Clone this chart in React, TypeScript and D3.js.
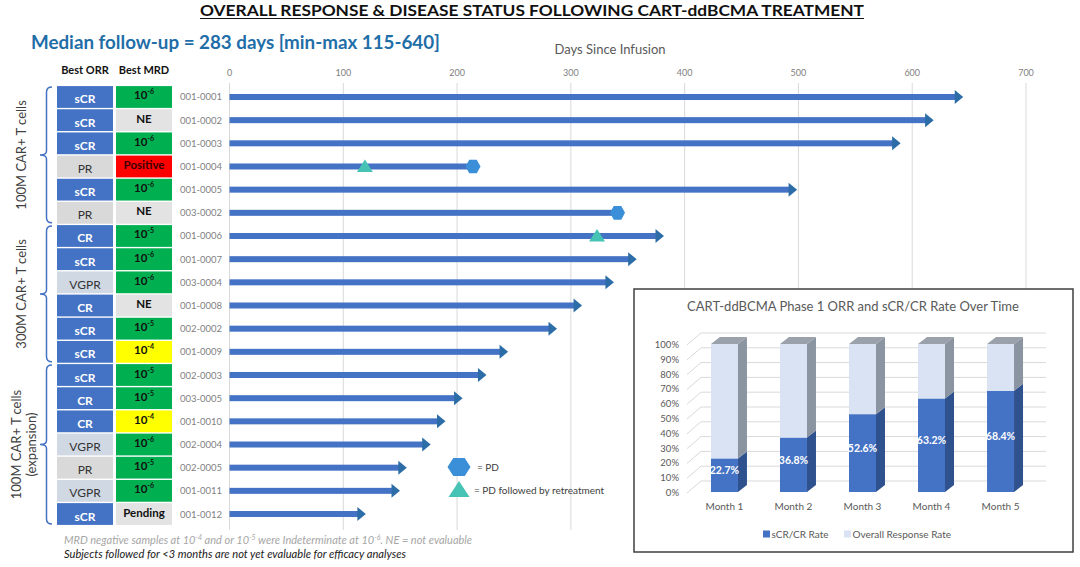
import React from 'react';
import * as d3 from 'd3';

// ---------- Data ----------
const patients = ["001-0001","001-0002","001-0003","001-0004","001-0005","003-0002","001-0006","001-0007","003-0004","001-0008","002-0002","001-0009","002-0003","003-0005","001-0010","002-0004","002-0005","001-0011","001-0012"];
const bestORR = ["sCR","sCR","sCR","PR","sCR","PR","CR","sCR","VGPR","CR","sCR","sCR","sCR","CR","CR","VGPR","PR","VGPR","sCR"];
const bestMRD = ["10-6","NE","10-6","Positive","10-6","NE","10-5","10-6","10-6","NE","10-5","10-4","10-5","10-5","10-4","10-6","10-5","10-6","Pending"];
const followUpDays = [640,614,585,214,494,341,377,353,333,305,283,240,221,200,185,172,151,145,115];
const pdDays: (number|null)[] = [null,null,null,214,null,341,null,null,null,null,null,null,null,null,null,null,null,null,null];
const retreatDays: (number|null)[] = [null,null,null,119,null,null,323,null,null,null,null,null,null,null,null,null,null,null,null];
const groupLabels = [["100M CAR+ T cells"],["300M CAR+ T cells"],["100M CAR+ T cells","(expansion)"]];
const groupRows = [[0,5],[6,11],[12,18]];
const dayTicks = [0,100,200,300,400,500,600,700];

const months = ["Month 1","Month 2","Month 3","Month 4","Month 5"];
const scrRate = [22.7,36.8,52.6,63.2,68.4];
const orrRate = [100,100,100,100,100];
const pctTicks = [0,10,20,30,40,50,60,70,80,90,100];

// ---------- Styles ----------
const FONT = "Lato, 'Open Sans', sans-serif";
const ORR_FILL: Record<string,string> = { sCR: "#4472C4", CR: "#4472C4", PR: "#D9D9D9", VGPR: "#D0D8E4" };
const ORR_TEXT: Record<string,string> = { sCR: "#ffffff", CR: "#ffffff", PR: "#333333", VGPR: "#333333" };
function mrdFill(m: string) {
  if (m === "10-6" || m === "10-5") return "#00B050";
  if (m === "10-4") return "#FFFF00";
  if (m === "Positive") return "#FF0000";
  return "#E3E3E3";
}

function hexPath(cx: number, cy: number, rx: number, ry: number) {
  const pts = [[cx-rx,cy],[cx-rx/2,cy-ry],[cx+rx/2,cy-ry],[cx+rx,cy],[cx+rx/2,cy+ry],[cx-rx/2,cy+ry]];
  return "M" + pts.map(p => p.join(",")).join("L") + "Z";
}
function triPath(cx: number, cy: number, w: number, up: number, down: number) {
  return `M${cx},${cy-up}L${cx+w/2},${cy+down}L${cx-w/2},${cy+down}Z`;
}

function MrdLabel({ m, x, y }: { m: string; x: number; y: number }) {
  if (m.startsWith("10-")) {
    return (
      <text x={x} y={y} textAnchor="middle" fontFamily={FONT} fontWeight="bold" fontSize={11.5} fill="#111">
        <tspan>10</tspan><tspan fontSize={7} dy={-5}>{"-" + m.slice(3)}</tspan>
      </text>
    );
  }
  return (
    <text x={x} y={y} textAnchor="middle" fontFamily={FONT} fontWeight="bold" fontSize={11.5} fill={m === "Positive" ? "#3a0000" : "#111"}>{m}</text>
  );
}

export default function App() {
  const W = 1080, H = 567;
  const x = d3.scaleLinear().domain([0, 700]).range([229.5, 1026]);
  const y = d3.scaleBand<number>().domain(d3.range(patients.length)).range([85.4, 525.6]).paddingInner(0.06).paddingOuter(0.03);
  const bw = y.bandwidth();
  const cy = (i: number) => (y(i) as number) + bw / 2;

  // inset
  const yP = d3.scaleLinear().domain([0, 100]).range([492, 344]);
  const xM = d3.scaleBand<string>().domain(months).range([690, 1035]).paddingInner(0.609).paddingOuter(0.304);
  const mw = xM.bandwidth();
  const dx = 9, dy = -7;

  return (
    <svg width={W} height={H} style={{ position: "absolute", left: 0, top: 0, background: "#fff" }}>
      <rect width={W} height={H} fill="#fff" />
      {/* Title */}
      <text x={532} y={16} textAnchor="middle" fontFamily={FONT} fontWeight="bold" fontSize={16} fill="#111" textLength={664} lengthAdjust="spacingAndGlyphs">OVERALL RESPONSE &amp; DISEASE STATUS FOLLOWING CART-ddBCMA TREATMENT</text>
      <line x1={200} x2={864} y1={18.5} y2={18.5} stroke="#111" strokeWidth={1.2} />
      <text x={31} y={49} fontFamily={FONT} fontWeight="bold" fontSize={19} fill="#1F6EA8" textLength={409} lengthAdjust="spacingAndGlyphs">Median follow-up = 283 days [min-max 115-640]</text>
      <text x={610} y={54} textAnchor="middle" fontFamily={FONT} fontSize={13} fill="#595959">Days Since Infusion</text>

      {/* headers */}
      <text x={85} y={74} textAnchor="middle" fontFamily={FONT} fontWeight="bold" fontSize={11} fill="#111">Best ORR</text>
      <text x={144} y={74} textAnchor="middle" fontFamily={FONT} fontWeight="bold" fontSize={11} fill="#111">Best MRD</text>

      {/* gridlines & ticks */}
      {dayTicks.map(t => (
        <g key={t}>
          <line x1={x(t)} x2={x(t)} y1={83} y2={530} stroke="#D9D9D9" strokeWidth={1} />
          <text x={x(t)} y={76} textAnchor="middle" fontFamily={FONT} fontSize={9} fill="#808080">{t}</text>
        </g>
      ))}

      {/* table rows */}
      {patients.map((p, i) => (
        <g key={p}>
          <rect x={57} y={y(i)} width={56} height={bw} fill={ORR_FILL[bestORR[i]]} />
          <text x={85} y={cy(i) + 6.5} textAnchor="middle" fontFamily={FONT} fontWeight={bestORR[i].includes("CR") ? "bold" : "normal"} fontSize={12} fill={ORR_TEXT[bestORR[i]]}>{bestORR[i]}</text>
          <rect x={116} y={y(i)} width={56} height={bw} fill={mrdFill(bestMRD[i])} />
          <MrdLabel m={bestMRD[i]} x={144} y={cy(i) + 2.5} />
          <text x={180} y={cy(i) + 3.5} fontFamily={FONT} fontSize={9.5} fill="#7F7F7F">{p}</text>
        </g>
      ))}

      {/* group brackets */}
      {groupRows.map(([a, b], g) => {
        const top = (y(a) as number) + 1;
        const bot = (y(b) as number) + bw - 1;
        const mid = (top + bot) / 2;
        const bx = 46.5;
        const d = `M52,${top}Q${bx},${top} ${bx},${top + 5}L${bx},${mid - 4}Q${bx},${mid} 40,${mid}Q${bx},${mid} ${bx},${mid + 4}L${bx},${bot - 5}Q${bx},${bot} 52,${bot}`;
        const lines = groupLabels[g];
        return (
          <g key={g}>
            <path d={d} fill="none" stroke="#4472C4" strokeWidth={1.5} />
            {lines.map((l, k) => {
              const lx = lines.length === 1 ? 23 : 18 + k * 15;
              return (
                <text key={k} transform={`translate(${lx},${mid}) rotate(-90)`} textAnchor="middle" dominantBaseline="middle" fontFamily={FONT} fontSize={13} fill="#404040">{l}</text>
              );
            })}
          </g>
        );
      })}

      {/* swimmer bars */}
      {followUpDays.map((v, i) => {
        const c = cy(i);
        const ongoing = pdDays[i] === null;
        return (
          <g key={i}>
            <rect x={x(0)} y={c - 3} width={x(v) - x(0) - (ongoing ? 2 : 0)} height={6} fill="#4472C4" />
            {ongoing && <path d={`M${x(v) - 3},${c - 7}L${x(v) + 5.5},${c}L${x(v) - 3},${c + 7}Z`} fill="#2C6DA8" />}
          </g>
        );
      })}
      {retreatDays.map((r, i) => r === null ? null : (
        <path key={"t" + i} d={triPath(x(r), cy(i), 16, 7, 5.5)} fill="#47C3B5" />
      ))}
      {pdDays.map((r, i) => r === null ? null : (
        <path key={"h" + i} d={hexPath(x(r), cy(i), 7.5, 6.8)} fill="#3B8ED8" />
      ))}

      {/* legend */}
      <path d={hexPath(459, 467, 11.5, 9)} fill="#3B8ED8" />
      <text x={477} y={470.5} fontFamily={FONT} fontSize={10} fill="#404040">= PD</text>
      <path d={triPath(459, 490, 21, 9, 7)} fill="#47C3B5" />
      <text x={474} y={494} fontFamily={FONT} fontSize={10} fill="#404040">= PD followed by retreatment</text>

      {/* footnotes */}
      <text x={64} y={544} fontFamily={FONT} fontStyle="italic" fontSize={11} fill="#A6A6A6">
        <tspan>MRD negative samples at 10</tspan><tspan fontSize={7} dy={-4}>-4</tspan>
        <tspan dy={4}> and or 10</tspan><tspan fontSize={7} dy={-4}>-5</tspan>
        <tspan dy={4}> were Indeterminate at 10</tspan><tspan fontSize={7} dy={-4}>-6</tspan>
        <tspan dy={4}>. NE = not evaluable</tspan>
      </text>
      <text x={64} y={557.5} fontFamily={FONT} fontStyle="italic" fontSize={10.5} fill="#1a1a1a" textLength={342} lengthAdjust="spacingAndGlyphs">Subjects followed for &lt;3 months are not yet evaluable for efficacy analyses</text>

      {/* inset */}
      <rect x={634} y={289} width={439} height={263} fill="#fff" stroke="#3F3F3F" strokeWidth={1.5} />
      <text x={853} y={311} textAnchor="middle" fontFamily={FONT} fontSize={13} fill="#595959">CART-ddBCMA Phase 1 ORR and sCR/CR Rate Over Time</text>
      {pctTicks.map(t => (
        <g key={t}>
          <path d={`M687,${yP(t) + 1}L701,${yP(t) - 11}L1046,${yP(t) - 11}`} fill="none" stroke="#D9D9D9" strokeWidth={1} />
          <text x={679} y={yP(t) + 4} textAnchor="end" fontFamily={FONT} fontSize={9.5} fill="#595959">{t}%</text>
        </g>
      ))}
      {months.map((m, i) => {
        const x0 = xM(m) as number;
        const y0 = yP(0), y1 = yP(scrRate[i]), y2 = yP(orrRate[i]);
        const side = (ya: number, yb: number) => `M${x0 + mw},${ya}L${x0 + mw + dx},${ya + dy}L${x0 + mw + dx},${yb + dy}L${x0 + mw},${yb}Z`;
        return (
          <g key={m}>
            <rect x={x0} y={y1} width={mw} height={y0 - y1} fill="#4472C4" />
            <path d={side(y0, y1)} fill="#2F528F" />
            <rect x={x0} y={y2} width={mw} height={y1 - y2} fill="#DAE3F3" />
            <path d={side(y1, y2)} fill="#8B95A2" />
            <path d={`M${x0},${y2}L${x0 + dx},${y2 + dy}L${x0 + mw + dx},${y2 + dy}L${x0 + mw},${y2}Z`} fill="#9AA1AB" />
            <text x={x0 + mw / 2} y={(y0 + y1) / 2 - 1} textAnchor="middle" fontFamily={FONT} fontWeight="bold" fontSize={10.5} fill="#fff">{scrRate[i].toFixed(1)}%</text>
            <text x={x0 + mw / 2} y={510} textAnchor="middle" fontFamily={FONT} fontSize={10} fill="#595959">{m}</text>
          </g>
        );
      })}
      <rect x={763} y={530.5} width={7} height={7} fill="#4472C4" />
      <text x={771.5} y={537.5} fontFamily={FONT} fontSize={10} fill="#595959">sCR/CR Rate</text>
      <rect x={844} y={530.5} width={7} height={7} fill="#DAE3F3" />
      <text x={852.5} y={537.5} fontFamily={FONT} fontSize={10} fill="#595959">Overall Response Rate</text>
    </svg>
  );
}
